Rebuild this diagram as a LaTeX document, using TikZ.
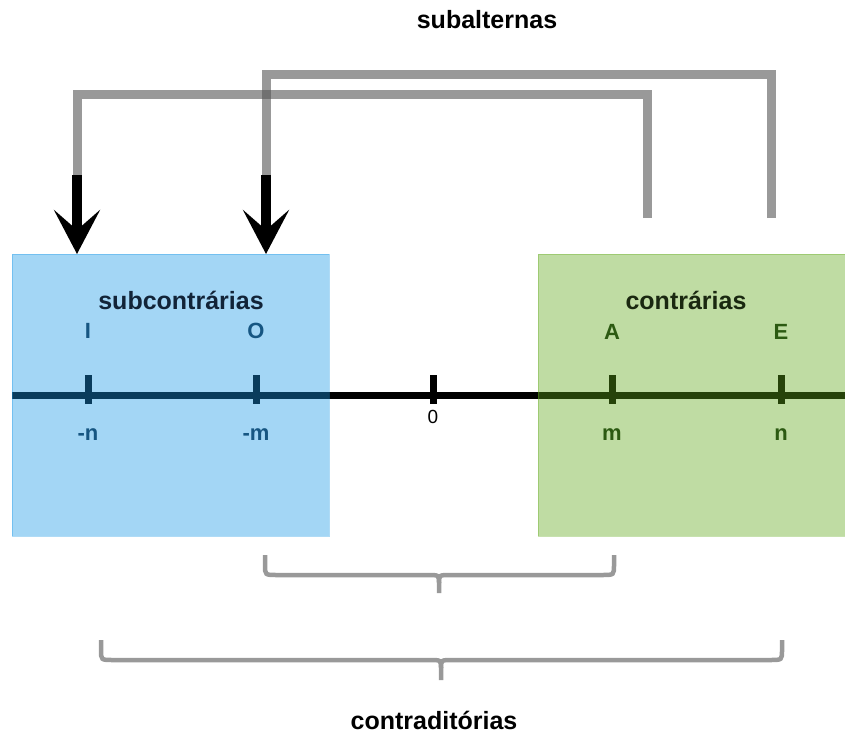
\documentclass[tikz,border=0pt]{standalone}
\usepackage{fontspec}
\setmainfont{Liberation Sans}
\usetikzlibrary{arrows.meta,calc}

\definecolor{boxblue}{RGB}{25,152,230}
\definecolor{boxgreen}{RGB}{95,168,25}
\definecolor{linkgray}{RGB}{85,85,85}
\definecolor{bracegray}{RGB}{153,153,153}
\definecolor{bluehead}{RGB}{18,36,56}
\definecolor{bluelab}{RGB}{22,86,130}
\definecolor{greenhead}{RGB}{26,40,16}
\definecolor{greenlab}{RGB}{44,90,18}

\tikzset{
  region/.style={rectangle, inner sep=0pt, fill opacity=0.4, draw opacity=0.35},
  axisline/.style={line width=7pt, black},
  tickmark/.style={line width=7pt, black},
  title/.style={font=\fontsize{25}{28}\selectfont\bfseries, inner sep=0pt, anchor=base},
  letter/.style={font=\fontsize{22}{26}\selectfont\bfseries, inner sep=0pt, anchor=base},
  zero/.style={font=\fontsize{19}{22}\selectfont, inner sep=0pt, anchor=base},
  link/.style={line width=9pt, linkgray, draw opacity=0.6},
  linkend/.style={line width=10pt, black, -{Stealth[length=44pt, width=46pt, inset=20pt]}},
  bracket/.style={line width=4.5pt, bracegray},
}

\begin{document}
\begin{tikzpicture}[x=1pt, y=-1pt]
\useasboundingbox (0,0) rectangle (845,733);

% number line with its ticks
\coordinate (axL) at (12,395.5);
\coordinate (axR) at (845,395.5);
\draw[axisline] (axL) -- (axR);
\foreach \n/\x in {tn/88, tm/256, tz/433, pm/612, pn/781}
  \draw[tickmark] (\x,375) coordinate (\n) -- (\x,404);

% the two shaded regions
\node[region, fill=boxblue, draw=boxblue, minimum width=317pt, minimum height=282pt]
  (sub) at (170.5,395) {};
\node[region, fill=boxgreen, draw=boxgreen, minimum width=307pt, minimum height=282pt]
  (con) at (691.5,395) {};

% texts inside the regions
\node[title, text=bluehead] (subt) at (181,309) {subcontrárias};
\node[letter, text=bluelab] (lI) at (88,338) {I};
\node[letter, text=bluelab] (lO) at (256,338) {O};
\node[letter, text=bluelab] (ln) at (88,440) {-n};
\node[letter, text=bluelab] (lm) at (256,440) {-m};

\node[title, text=greenhead] (cont) at (686,309) {contrárias};
\node[letter, text=greenlab] (lA) at (612,339) {A};
\node[letter, text=greenlab] (lE) at (781,339) {E};
\node[letter, text=greenlab] (rm) at (612,440) {m};
\node[letter, text=greenlab] (rn) at (781,440) {n};

\node[zero] (l0) at (433,423) {0};

% subalternation links
\coordinate (srcA) at (647,218);
\coordinate (srcE) at (771,218);
\coordinate (kI) at (77,175);
\coordinate (kO) at (266,175);
\coordinate (tipI) at (77,254);
\coordinate (tipO) at (266,254);

\draw[link] (srcA) |- (170,95) -| (kI);
\draw[link] (srcE) |- (500,75) -| (kO);
\draw[linkend] (kI) -- (tipI);
\draw[linkend] (kO) -- (tipO);

\node[title] (subalt) at (487,29) {subalternas};

% braces underneath
\draw[bracket] (265,555) -- (265,565) .. controls (265,575) .. (277,575)
  -- (427,575) .. controls (439,575) .. (439,583) -- (439,593);
\draw[bracket] (614,555) -- (614,565) .. controls (614,575) .. (602,575)
  -- (451,575) .. controls (439,575) .. (439,583);

\draw[bracket] (101,640) -- (101,650) .. controls (101,660) .. (113,660)
  -- (429,660) .. controls (441,660) .. (441,668) -- (441,680);
\draw[bracket] (782,640) -- (782,650) .. controls (782,660) .. (770,660)
  -- (453,660) .. controls (441,660) .. (441,668);

\node[title] (contrad) at (434,729) {contraditórias};
\end{tikzpicture}
\end{document}
